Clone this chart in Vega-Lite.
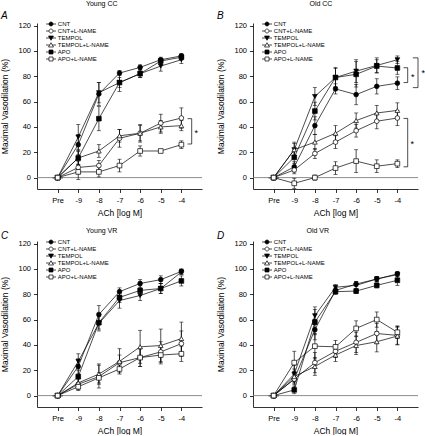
{
"$schema":"https://vega.github.io/schema/vega-lite/v6.json",
"background":"white",
"padding":{"left":0,"top":0,"right":0,"bottom":0},
"datasets":{
"d":[
{"p":"YCC","s":"CNT","x":-10,"y":0,"e":0},{"p":"YCC","s":"CNT","x":-9,"y":26,"e":8},{"p":"YCC","s":"CNT","x":-8,"y":66,"e":9},{"p":"YCC","s":"CNT","x":-7,"y":82.5,"e":2},{"p":"YCC","s":"CNT","x":-6,"y":87,"e":2},{"p":"YCC","s":"CNT","x":-5,"y":93,"e":2},{"p":"YCC","s":"CNT","x":-4,"y":96,"e":2},
{"p":"YCC","s":"CNT+L-NAME","x":-10,"y":0,"e":0},{"p":"YCC","s":"CNT+L-NAME","x":-9,"y":8,"e":5},{"p":"YCC","s":"CNT+L-NAME","x":-8,"y":9.5,"e":4},{"p":"YCC","s":"CNT+L-NAME","x":-7,"y":31,"e":7},{"p":"YCC","s":"CNT+L-NAME","x":-6,"y":35,"e":7},{"p":"YCC","s":"CNT+L-NAME","x":-5,"y":43,"e":7},{"p":"YCC","s":"CNT+L-NAME","x":-4,"y":47,"e":8},
{"p":"YCC","s":"TEMPOL","x":-10,"y":0,"e":0},{"p":"YCC","s":"TEMPOL","x":-9,"y":32,"e":10},{"p":"YCC","s":"TEMPOL","x":-8,"y":67,"e":8},{"p":"YCC","s":"TEMPOL","x":-7,"y":75,"e":7},{"p":"YCC","s":"TEMPOL","x":-6,"y":82,"e":3},{"p":"YCC","s":"TEMPOL","x":-5,"y":88,"e":4},{"p":"YCC","s":"TEMPOL","x":-4,"y":93,"e":3},
{"p":"YCC","s":"TEMPOL+L-NAME","x":-10,"y":0,"e":0},{"p":"YCC","s":"TEMPOL+L-NAME","x":-9,"y":15.5,"e":6},{"p":"YCC","s":"TEMPOL+L-NAME","x":-8,"y":21,"e":5},{"p":"YCC","s":"TEMPOL+L-NAME","x":-7,"y":33,"e":5},{"p":"YCC","s":"TEMPOL+L-NAME","x":-6,"y":35,"e":6},{"p":"YCC","s":"TEMPOL+L-NAME","x":-5,"y":40,"e":5},{"p":"YCC","s":"TEMPOL+L-NAME","x":-4,"y":41,"e":4},
{"p":"YCC","s":"APO","x":-10,"y":0,"e":0},{"p":"YCC","s":"APO","x":-9,"y":15.5,"e":5},{"p":"YCC","s":"APO","x":-8,"y":46.5,"e":9.5},{"p":"YCC","s":"APO","x":-7,"y":75,"e":4},{"p":"YCC","s":"APO","x":-6,"y":82,"e":3},{"p":"YCC","s":"APO","x":-5,"y":92,"e":2},{"p":"YCC","s":"APO","x":-4,"y":95,"e":2},
{"p":"YCC","s":"APO+L-NAME","x":-10,"y":0,"e":0},{"p":"YCC","s":"APO+L-NAME","x":-9,"y":4.5,"e":6},{"p":"YCC","s":"APO+L-NAME","x":-8,"y":4.5,"e":4},{"p":"YCC","s":"APO+L-NAME","x":-7,"y":9.5,"e":5},{"p":"YCC","s":"APO+L-NAME","x":-6,"y":21,"e":4},{"p":"YCC","s":"APO+L-NAME","x":-5,"y":21,"e":1},{"p":"YCC","s":"APO+L-NAME","x":-4,"y":26,"e":3},
{"p":"OCC","s":"CNT","x":-10,"y":0,"e":0},{"p":"OCC","s":"CNT","x":-9,"y":8.5,"e":4},{"p":"OCC","s":"CNT","x":-8,"y":41,"e":7},{"p":"OCC","s":"CNT","x":-7,"y":70,"e":4},{"p":"OCC","s":"CNT","x":-6,"y":65.5,"e":8},{"p":"OCC","s":"CNT","x":-5,"y":72,"e":6},{"p":"OCC","s":"CNT","x":-4,"y":74.5,"e":5},
{"p":"OCC","s":"CNT+L-NAME","x":-10,"y":0,"e":0},{"p":"OCC","s":"CNT+L-NAME","x":-9,"y":6,"e":3},{"p":"OCC","s":"CNT+L-NAME","x":-8,"y":19,"e":4},{"p":"OCC","s":"CNT+L-NAME","x":-7,"y":28,"e":5},{"p":"OCC","s":"CNT+L-NAME","x":-6,"y":37,"e":5},{"p":"OCC","s":"CNT+L-NAME","x":-5,"y":44.5,"e":6},{"p":"OCC","s":"CNT+L-NAME","x":-4,"y":47,"e":6},
{"p":"OCC","s":"TEMPOL","x":-10,"y":0,"e":0},{"p":"OCC","s":"TEMPOL","x":-9,"y":22,"e":5},{"p":"OCC","s":"TEMPOL","x":-8,"y":64,"e":7},{"p":"OCC","s":"TEMPOL","x":-7,"y":79,"e":8},{"p":"OCC","s":"TEMPOL","x":-6,"y":84,"e":9},{"p":"OCC","s":"TEMPOL","x":-5,"y":88.5,"e":6},{"p":"OCC","s":"TEMPOL","x":-4,"y":93,"e":3},
{"p":"OCC","s":"TEMPOL+L-NAME","x":-10,"y":0,"e":0},{"p":"OCC","s":"TEMPOL+L-NAME","x":-9,"y":22,"e":6},{"p":"OCC","s":"TEMPOL+L-NAME","x":-8,"y":28,"e":6},{"p":"OCC","s":"TEMPOL+L-NAME","x":-7,"y":35,"e":6},{"p":"OCC","s":"TEMPOL+L-NAME","x":-6,"y":45,"e":6},{"p":"OCC","s":"TEMPOL+L-NAME","x":-5,"y":51,"e":6},{"p":"OCC","s":"TEMPOL+L-NAME","x":-4,"y":53,"e":6},
{"p":"OCC","s":"APO","x":-10,"y":0,"e":0},{"p":"OCC","s":"APO","x":-9,"y":16,"e":5},{"p":"OCC","s":"APO","x":-8,"y":52.5,"e":7},{"p":"OCC","s":"APO","x":-7,"y":79,"e":7},{"p":"OCC","s":"APO","x":-6,"y":81.5,"e":10},{"p":"OCC","s":"APO","x":-5,"y":88,"e":5},{"p":"OCC","s":"APO","x":-4,"y":86.5,"e":5},
{"p":"OCC","s":"APO+L-NAME","x":-10,"y":0,"e":0},{"p":"OCC","s":"APO+L-NAME","x":-9,"y":-4.5,"e":4},{"p":"OCC","s":"APO+L-NAME","x":-8,"y":0,"e":2},{"p":"OCC","s":"APO+L-NAME","x":-7,"y":7.5,"e":5},{"p":"OCC","s":"APO+L-NAME","x":-6,"y":13,"e":9},{"p":"OCC","s":"APO+L-NAME","x":-5,"y":9,"e":5},{"p":"OCC","s":"APO+L-NAME","x":-4,"y":11,"e":3},
{"p":"YVR","s":"CNT","x":-10,"y":0,"e":0},{"p":"YVR","s":"CNT","x":-9,"y":23,"e":6},{"p":"YVR","s":"CNT","x":-8,"y":64,"e":7},{"p":"YVR","s":"CNT","x":-7,"y":82,"e":3},{"p":"YVR","s":"CNT","x":-6,"y":88.5,"e":3},{"p":"YVR","s":"CNT","x":-5,"y":91.5,"e":3},{"p":"YVR","s":"CNT","x":-4,"y":98,"e":2},
{"p":"YVR","s":"CNT+L-NAME","x":-10,"y":0,"e":0},{"p":"YVR","s":"CNT+L-NAME","x":-9,"y":9,"e":4},{"p":"YVR","s":"CNT+L-NAME","x":-8,"y":15,"e":9},{"p":"YVR","s":"CNT+L-NAME","x":-7,"y":26,"e":6},{"p":"YVR","s":"CNT+L-NAME","x":-6,"y":30,"e":7},{"p":"YVR","s":"CNT+L-NAME","x":-5,"y":34.5,"e":8},{"p":"YVR","s":"CNT+L-NAME","x":-4,"y":41,"e":10},
{"p":"YVR","s":"TEMPOL","x":-10,"y":0,"e":0},{"p":"YVR","s":"TEMPOL","x":-9,"y":27,"e":6},{"p":"YVR","s":"TEMPOL","x":-8,"y":57,"e":6},{"p":"YVR","s":"TEMPOL","x":-7,"y":75,"e":6},{"p":"YVR","s":"TEMPOL","x":-6,"y":79,"e":4},{"p":"YVR","s":"TEMPOL","x":-5,"y":84.5,"e":4},{"p":"YVR","s":"TEMPOL","x":-4,"y":97.5,"e":2},
{"p":"YVR","s":"TEMPOL+L-NAME","x":-10,"y":0,"e":0},{"p":"YVR","s":"TEMPOL+L-NAME","x":-9,"y":10,"e":4},{"p":"YVR","s":"TEMPOL+L-NAME","x":-8,"y":17,"e":8},{"p":"YVR","s":"TEMPOL+L-NAME","x":-7,"y":27,"e":10},{"p":"YVR","s":"TEMPOL+L-NAME","x":-6,"y":38.5,"e":13},{"p":"YVR","s":"TEMPOL+L-NAME","x":-5,"y":39.5,"e":13},{"p":"YVR","s":"TEMPOL+L-NAME","x":-4,"y":45,"e":13},
{"p":"YVR","s":"APO","x":-10,"y":0,"e":0},{"p":"YVR","s":"APO","x":-9,"y":15,"e":5},{"p":"YVR","s":"APO","x":-8,"y":57.5,"e":5},{"p":"YVR","s":"APO","x":-7,"y":77.5,"e":4},{"p":"YVR","s":"APO","x":-6,"y":83,"e":4},{"p":"YVR","s":"APO","x":-5,"y":84.5,"e":4},{"p":"YVR","s":"APO","x":-4,"y":90.5,"e":4},
{"p":"YVR","s":"APO+L-NAME","x":-10,"y":0,"e":0},{"p":"YVR","s":"APO+L-NAME","x":-9,"y":7,"e":3},{"p":"YVR","s":"APO+L-NAME","x":-8,"y":14,"e":4},{"p":"YVR","s":"APO+L-NAME","x":-7,"y":21,"e":3},{"p":"YVR","s":"APO+L-NAME","x":-6,"y":30,"e":7},{"p":"YVR","s":"APO+L-NAME","x":-5,"y":32,"e":7},{"p":"YVR","s":"APO+L-NAME","x":-4,"y":33,"e":6},
{"p":"OVR","s":"CNT","x":-10,"y":0,"e":0},{"p":"OVR","s":"CNT","x":-9,"y":13,"e":8},{"p":"OVR","s":"CNT","x":-8,"y":52,"e":8},{"p":"OVR","s":"CNT","x":-7,"y":83,"e":2},{"p":"OVR","s":"CNT","x":-6,"y":88,"e":2},{"p":"OVR","s":"CNT","x":-5,"y":92,"e":2},{"p":"OVR","s":"CNT","x":-4,"y":96,"e":2},
{"p":"OVR","s":"CNT+L-NAME","x":-10,"y":0,"e":0},{"p":"OVR","s":"CNT+L-NAME","x":-9,"y":13,"e":4},{"p":"OVR","s":"CNT+L-NAME","x":-8,"y":26,"e":8},{"p":"OVR","s":"CNT+L-NAME","x":-7,"y":35,"e":5},{"p":"OVR","s":"CNT+L-NAME","x":-6,"y":42,"e":8},{"p":"OVR","s":"CNT+L-NAME","x":-5,"y":49,"e":8},{"p":"OVR","s":"CNT+L-NAME","x":-4,"y":47.5,"e":7},
{"p":"OVR","s":"TEMPOL","x":-10,"y":0,"e":0},{"p":"OVR","s":"TEMPOL","x":-9,"y":17,"e":7},{"p":"OVR","s":"TEMPOL","x":-8,"y":63,"e":7},{"p":"OVR","s":"TEMPOL","x":-7,"y":85.5,"e":2},{"p":"OVR","s":"TEMPOL","x":-6,"y":87,"e":3},{"p":"OVR","s":"TEMPOL","x":-5,"y":92,"e":2},{"p":"OVR","s":"TEMPOL","x":-4,"y":95.5,"e":2},
{"p":"OVR","s":"TEMPOL+L-NAME","x":-10,"y":0,"e":0},{"p":"OVR","s":"TEMPOL+L-NAME","x":-9,"y":15,"e":4},{"p":"OVR","s":"TEMPOL+L-NAME","x":-8,"y":23,"e":7},{"p":"OVR","s":"TEMPOL+L-NAME","x":-7,"y":32,"e":5},{"p":"OVR","s":"TEMPOL+L-NAME","x":-6,"y":39.5,"e":7},{"p":"OVR","s":"TEMPOL+L-NAME","x":-5,"y":42.5,"e":8},{"p":"OVR","s":"TEMPOL+L-NAME","x":-4,"y":47,"e":7},
{"p":"OVR","s":"APO","x":-10,"y":0,"e":0},{"p":"OVR","s":"APO","x":-9,"y":4.5,"e":3},{"p":"OVR","s":"APO","x":-8,"y":58,"e":10},{"p":"OVR","s":"APO","x":-7,"y":82,"e":2},{"p":"OVR","s":"APO","x":-6,"y":82.5,"e":2},{"p":"OVR","s":"APO","x":-5,"y":87,"e":2},{"p":"OVR","s":"APO","x":-4,"y":91,"e":4},
{"p":"OVR","s":"APO+L-NAME","x":-10,"y":0,"e":0},{"p":"OVR","s":"APO+L-NAME","x":-9,"y":26,"e":9},{"p":"OVR","s":"APO+L-NAME","x":-8,"y":39,"e":10},{"p":"OVR","s":"APO+L-NAME","x":-7,"y":38.5,"e":5},{"p":"OVR","s":"APO+L-NAME","x":-6,"y":53,"e":6},{"p":"OVR","s":"APO+L-NAME","x":-5,"y":60,"e":6},{"p":"OVR","s":"APO+L-NAME","x":-4,"y":50,"e":5}
],
"br":[
{"p":"YCC","x":-3.5,"x2":-3.5,"y":26.5,"y2":46.5},{"p":"YCC","x":-3.7,"x2":-3.5,"y":46.5,"y2":46.5},{"p":"YCC","x":-3.7,"x2":-3.5,"y":26.5,"y2":26.5},
{"p":"OCC","x":-3.0,"x2":-3.0,"y":71,"y2":94.5},{"p":"OCC","x":-3.25,"x2":-3.0,"y":94.5,"y2":94.5},{"p":"OCC","x":-3.25,"x2":-3.0,"y":71,"y2":71},
{"p":"OCC","x":-3.5,"x2":-3.5,"y":75,"y2":86.7},{"p":"OCC","x":-3.7,"x2":-3.5,"y":86.7,"y2":86.7},{"p":"OCC","x":-3.7,"x2":-3.5,"y":75,"y2":75},
{"p":"OCC","x":-3.5,"x2":-3.5,"y":8.5,"y2":46.7},{"p":"OCC","x":-3.7,"x2":-3.5,"y":46.7,"y2":46.7},{"p":"OCC","x":-3.7,"x2":-3.5,"y":8.5,"y2":8.5}
],
"ast":[
{"p":"YCC","x":-3.28,"y":36.5},
{"p":"OCC","x":-2.75,"y":84},
{"p":"OCC","x":-3.25,"y":81},
{"p":"OCC","x":-3.28,"y":28}
]
},
"vconcat":[
{"hconcat":[
{"title":{"text":"Young CC"},"vconcat":[{"title":{"text":"A","anchor":"start","frame":"bounds","fontStyle":"italic","fontSize":10,"offset":0},"width":165,"height":166,"layer":[
{"data":{"name":"d"},"transform":[{"filter":"datum.p == 'YCC' && datum.x == -10"}],"mark":{"type":"point","filled":true,"size":25,"strokeWidth":0.7,"opacity":1},"encoding":{"x":{"field":"x","type":"quantitative","scale":{"domain":[-11,-3],"nice":false,"zero":false},"axis":{"values":[-10,-9,-8,-7,-6,-5,-4],"labelExpr":"datum.value == -10 ? 'Pre' : '-' + abs(datum.value)","title":"ACh [log M]"}},"y":{"field":"y","type":"quantitative","scale":{"domain":[-9,122],"nice":false,"zero":false},"axis":{"values":[0,20,40,60,80,100,120],"title":"Maximal Vasodilation (%)"}},
"shape":{"field":"s","type":"nominal","scale":{"domain":["CNT","CNT+L-NAME","TEMPOL","TEMPOL+L-NAME","APO","APO+L-NAME"],"range":["M-2,0H-0.8M0.8,0H2M0.8,0A0.8,0.8,0,1,1,-0.8,0A0.8,0.8,0,1,1,0.8,0Z","M-2,0H-0.8M0.8,0H2M0.8,0A0.8,0.8,0,1,1,-0.8,0A0.8,0.8,0,1,1,0.8,0Z","M-2,0H2M-1,-0.8H1L0,0.9Z","M-2,0H-0.53M0.53,0H2M0,-0.9L1,0.8H-1Z","M-2,0H-0.8M0.8,0H2M-0.8,-0.8H0.8V0.8H-0.8Z","M-2,0H-0.8M0.8,0H2M-0.8,-0.8H0.8V0.8H-0.8Z"]},"legend":{"title":null,"orient":"none","legendX":11,"legendY":-2,"padding":0,"rowPadding":-1.3,"labelFontSize":6,"labelOffset":3.8,"symbolSize":25,"symbolStrokeWidth":0.7}},
"fill":{"field":"s","type":"nominal","scale":{"domain":["CNT","CNT+L-NAME","TEMPOL","TEMPOL+L-NAME","APO","APO+L-NAME"],"range":["black","white","black","white","black","white"]},"legend":{"title":null,"orient":"none","legendX":11,"legendY":-2,"padding":0,"rowPadding":-1.3,"labelFontSize":6,"labelOffset":3.8,"symbolSize":25,"symbolStrokeWidth":0.7}},
"stroke":{"field":"s","type":"nominal","scale":{"domain":["CNT","CNT+L-NAME","TEMPOL","TEMPOL+L-NAME","APO","APO+L-NAME"],"range":["black","black","black","black","black","black"]},"legend":{"title":null,"orient":"none","legendX":11,"legendY":-2,"padding":0,"rowPadding":-1.3,"labelFontSize":6,"labelOffset":3.8,"symbolSize":25,"symbolStrokeWidth":0.7}}}},
{"data":{"values":[{}]},"mark":{"type":"rule","color":"#808080","strokeWidth":0.9},"encoding":{"y":{"datum":0,"type":"quantitative","scale":{"domain":[-9,122],"nice":false,"zero":false},"axis":{"values":[0,20,40,60,80,100,120],"title":"Maximal Vasodilation (%)"}}}},
{"data":{"name":"d"},"transform":[{"filter":"datum.p == 'YCC' && datum.e > 0"}],"mark":{"type":"errorbar","color":"black","ticks":{"size":4,"thickness":0.8},"rule":{"strokeWidth":0.7}},"encoding":{"x":{"field":"x","type":"quantitative","scale":{"domain":[-11,-3],"nice":false,"zero":false},"axis":{"values":[-10,-9,-8,-7,-6,-5,-4],"labelExpr":"datum.value == -10 ? 'Pre' : '-' + abs(datum.value)","title":"ACh [log M]"}},"y":{"field":"y","type":"quantitative","scale":{"domain":[-9,122],"nice":false,"zero":false},"axis":{"values":[0,20,40,60,80,100,120],"title":"Maximal Vasodilation (%)"}},"yError":{"field":"e"}}},
{"data":{"name":"d"},"transform":[{"filter":"datum.p == 'YCC'"}],"mark":{"type":"line","color":"black","strokeWidth":0.7},"encoding":{"x":{"field":"x","type":"quantitative","scale":{"domain":[-11,-3],"nice":false,"zero":false},"axis":{"values":[-10,-9,-8,-7,-6,-5,-4],"labelExpr":"datum.value == -10 ? 'Pre' : '-' + abs(datum.value)","title":"ACh [log M]"}},"y":{"field":"y","type":"quantitative","scale":{"domain":[-9,122],"nice":false,"zero":false},"axis":{"values":[0,20,40,60,80,100,120],"title":"Maximal Vasodilation (%)"}},"detail":{"field":"s"},"order":{"field":"x"}}},
{"data":{"name":"d"},"transform":[{"filter":"datum.p == 'YCC'"}],"mark":{"type":"point","filled":true,"size":22,"stroke":"black","strokeWidth":0.7,"opacity":1},"encoding":{"x":{"field":"x","type":"quantitative","scale":{"domain":[-11,-3],"nice":false,"zero":false},"axis":{"values":[-10,-9,-8,-7,-6,-5,-4],"labelExpr":"datum.value == -10 ? 'Pre' : '-' + abs(datum.value)","title":"ACh [log M]"}},"y":{"field":"y","type":"quantitative","scale":{"domain":[-9,122],"nice":false,"zero":false},"axis":{"values":[0,20,40,60,80,100,120],"title":"Maximal Vasodilation (%)"}},
"shape":{"field":"s","type":"nominal","scale":{"domain":["CNT","CNT+L-NAME","TEMPOL","TEMPOL+L-NAME","APO","APO+L-NAME"],"range":["circle","circle","triangle-down","triangle-up","square","square"]},"legend":null},
"fill":{"field":"s","type":"nominal","scale":{"domain":["CNT","CNT+L-NAME","TEMPOL","TEMPOL+L-NAME","APO","APO+L-NAME"],"range":["black","white","black","white","black","white"]},"legend":null}}},
{"data":{"name":"br"},"transform":[{"filter":"datum.p == 'YCC'"}],"mark":{"type":"rule","color":"black","strokeWidth":0.7},"encoding":{"x":{"field":"x","type":"quantitative","scale":{"domain":[-11,-3],"nice":false,"zero":false},"axis":{"values":[-10,-9,-8,-7,-6,-5,-4],"labelExpr":"datum.value == -10 ? 'Pre' : '-' + abs(datum.value)","title":"ACh [log M]"}},"x2":{"field":"x2"},"y":{"field":"y","type":"quantitative","scale":{"domain":[-9,122],"nice":false,"zero":false},"axis":{"values":[0,20,40,60,80,100,120],"title":"Maximal Vasodilation (%)"}},"y2":{"field":"y2"}}},
{"data":{"name":"ast"},"transform":[{"filter":"datum.p == 'YCC'"}],"mark":{"type":"text","text":"*","fontSize":9,"baseline":"middle","dy":2},"encoding":{"x":{"field":"x","type":"quantitative","scale":{"domain":[-11,-3],"nice":false,"zero":false},"axis":{"values":[-10,-9,-8,-7,-6,-5,-4],"labelExpr":"datum.value == -10 ? 'Pre' : '-' + abs(datum.value)","title":"ACh [log M]"}},"y":{"field":"y","type":"quantitative","scale":{"domain":[-9,122],"nice":false,"zero":false},"axis":{"values":[0,20,40,60,80,100,120],"title":"Maximal Vasodilation (%)"}}}}
],"resolve":{"scale":{"shape":"independent","fill":"independent","stroke":"independent"}}}],"resolve":{"scale":{"shape":"independent","fill":"independent","stroke":"independent"},"legend":{"shape":"independent","fill":"independent","stroke":"independent"}}},
{"title":{"text":"Old CC"},"vconcat":[{"title":{"text":"B","anchor":"start","frame":"bounds","fontStyle":"italic","fontSize":10,"offset":0},"width":165,"height":166,"layer":[
{"data":{"name":"d"},"transform":[{"filter":"datum.p == 'OCC' && datum.x == -10"}],"mark":{"type":"point","filled":true,"size":25,"strokeWidth":0.7,"opacity":1},"encoding":{"x":{"field":"x","type":"quantitative","scale":{"domain":[-11,-3],"nice":false,"zero":false},"axis":{"values":[-10,-9,-8,-7,-6,-5,-4],"labelExpr":"datum.value == -10 ? 'Pre' : '-' + abs(datum.value)","title":"ACh [log M]"}},"y":{"field":"y","type":"quantitative","scale":{"domain":[-9,122],"nice":false,"zero":false},"axis":{"values":[0,20,40,60,80,100,120],"title":"Maximal Vasodilation (%)"}},
"shape":{"field":"s","type":"nominal","scale":{"domain":["CNT","CNT+L-NAME","TEMPOL","TEMPOL+L-NAME","APO","APO+L-NAME"],"range":["M-2,0H-0.8M0.8,0H2M0.8,0A0.8,0.8,0,1,1,-0.8,0A0.8,0.8,0,1,1,0.8,0Z","M-2,0H-0.8M0.8,0H2M0.8,0A0.8,0.8,0,1,1,-0.8,0A0.8,0.8,0,1,1,0.8,0Z","M-2,0H2M-1,-0.8H1L0,0.9Z","M-2,0H-0.53M0.53,0H2M0,-0.9L1,0.8H-1Z","M-2,0H-0.8M0.8,0H2M-0.8,-0.8H0.8V0.8H-0.8Z","M-2,0H-0.8M0.8,0H2M-0.8,-0.8H0.8V0.8H-0.8Z"]},"legend":{"title":null,"orient":"none","legendX":11,"legendY":-2,"padding":0,"rowPadding":-1.3,"labelFontSize":6,"labelOffset":3.8,"symbolSize":25,"symbolStrokeWidth":0.7}},
"fill":{"field":"s","type":"nominal","scale":{"domain":["CNT","CNT+L-NAME","TEMPOL","TEMPOL+L-NAME","APO","APO+L-NAME"],"range":["black","white","black","white","black","white"]},"legend":{"title":null,"orient":"none","legendX":11,"legendY":-2,"padding":0,"rowPadding":-1.3,"labelFontSize":6,"labelOffset":3.8,"symbolSize":25,"symbolStrokeWidth":0.7}},
"stroke":{"field":"s","type":"nominal","scale":{"domain":["CNT","CNT+L-NAME","TEMPOL","TEMPOL+L-NAME","APO","APO+L-NAME"],"range":["black","black","black","black","black","black"]},"legend":{"title":null,"orient":"none","legendX":11,"legendY":-2,"padding":0,"rowPadding":-1.3,"labelFontSize":6,"labelOffset":3.8,"symbolSize":25,"symbolStrokeWidth":0.7}}}},
{"data":{"values":[{}]},"mark":{"type":"rule","color":"#808080","strokeWidth":0.9},"encoding":{"y":{"datum":0,"type":"quantitative","scale":{"domain":[-9,122],"nice":false,"zero":false},"axis":{"values":[0,20,40,60,80,100,120],"title":"Maximal Vasodilation (%)"}}}},
{"data":{"name":"d"},"transform":[{"filter":"datum.p == 'OCC' && datum.e > 0"}],"mark":{"type":"errorbar","color":"black","ticks":{"size":4,"thickness":0.8},"rule":{"strokeWidth":0.7}},"encoding":{"x":{"field":"x","type":"quantitative","scale":{"domain":[-11,-3],"nice":false,"zero":false},"axis":{"values":[-10,-9,-8,-7,-6,-5,-4],"labelExpr":"datum.value == -10 ? 'Pre' : '-' + abs(datum.value)","title":"ACh [log M]"}},"y":{"field":"y","type":"quantitative","scale":{"domain":[-9,122],"nice":false,"zero":false},"axis":{"values":[0,20,40,60,80,100,120],"title":"Maximal Vasodilation (%)"}},"yError":{"field":"e"}}},
{"data":{"name":"d"},"transform":[{"filter":"datum.p == 'OCC'"}],"mark":{"type":"line","color":"black","strokeWidth":0.7},"encoding":{"x":{"field":"x","type":"quantitative","scale":{"domain":[-11,-3],"nice":false,"zero":false},"axis":{"values":[-10,-9,-8,-7,-6,-5,-4],"labelExpr":"datum.value == -10 ? 'Pre' : '-' + abs(datum.value)","title":"ACh [log M]"}},"y":{"field":"y","type":"quantitative","scale":{"domain":[-9,122],"nice":false,"zero":false},"axis":{"values":[0,20,40,60,80,100,120],"title":"Maximal Vasodilation (%)"}},"detail":{"field":"s"},"order":{"field":"x"}}},
{"data":{"name":"d"},"transform":[{"filter":"datum.p == 'OCC'"}],"mark":{"type":"point","filled":true,"size":22,"stroke":"black","strokeWidth":0.7,"opacity":1},"encoding":{"x":{"field":"x","type":"quantitative","scale":{"domain":[-11,-3],"nice":false,"zero":false},"axis":{"values":[-10,-9,-8,-7,-6,-5,-4],"labelExpr":"datum.value == -10 ? 'Pre' : '-' + abs(datum.value)","title":"ACh [log M]"}},"y":{"field":"y","type":"quantitative","scale":{"domain":[-9,122],"nice":false,"zero":false},"axis":{"values":[0,20,40,60,80,100,120],"title":"Maximal Vasodilation (%)"}},
"shape":{"field":"s","type":"nominal","scale":{"domain":["CNT","CNT+L-NAME","TEMPOL","TEMPOL+L-NAME","APO","APO+L-NAME"],"range":["circle","circle","triangle-down","triangle-up","square","square"]},"legend":null},
"fill":{"field":"s","type":"nominal","scale":{"domain":["CNT","CNT+L-NAME","TEMPOL","TEMPOL+L-NAME","APO","APO+L-NAME"],"range":["black","white","black","white","black","white"]},"legend":null}}},
{"data":{"name":"br"},"transform":[{"filter":"datum.p == 'OCC'"}],"mark":{"type":"rule","color":"black","strokeWidth":0.7},"encoding":{"x":{"field":"x","type":"quantitative","scale":{"domain":[-11,-3],"nice":false,"zero":false},"axis":{"values":[-10,-9,-8,-7,-6,-5,-4],"labelExpr":"datum.value == -10 ? 'Pre' : '-' + abs(datum.value)","title":"ACh [log M]"}},"x2":{"field":"x2"},"y":{"field":"y","type":"quantitative","scale":{"domain":[-9,122],"nice":false,"zero":false},"axis":{"values":[0,20,40,60,80,100,120],"title":"Maximal Vasodilation (%)"}},"y2":{"field":"y2"}}},
{"data":{"name":"ast"},"transform":[{"filter":"datum.p == 'OCC'"}],"mark":{"type":"text","text":"*","fontSize":9,"baseline":"middle","dy":2},"encoding":{"x":{"field":"x","type":"quantitative","scale":{"domain":[-11,-3],"nice":false,"zero":false},"axis":{"values":[-10,-9,-8,-7,-6,-5,-4],"labelExpr":"datum.value == -10 ? 'Pre' : '-' + abs(datum.value)","title":"ACh [log M]"}},"y":{"field":"y","type":"quantitative","scale":{"domain":[-9,122],"nice":false,"zero":false},"axis":{"values":[0,20,40,60,80,100,120],"title":"Maximal Vasodilation (%)"}}}}
],"resolve":{"scale":{"shape":"independent","fill":"independent","stroke":"independent"}}}],"resolve":{"scale":{"shape":"independent","fill":"independent","stroke":"independent"},"legend":{"shape":"independent","fill":"independent","stroke":"independent"}}}
],"spacing":13,"resolve":{"scale":{"shape":"independent","fill":"independent","stroke":"independent"},"legend":{"shape":"independent","fill":"independent","stroke":"independent"}}},
{"hconcat":[
{"title":{"text":"Young VR","offset":-3.5},"vconcat":[{"title":{"text":"C","anchor":"start","frame":"bounds","fontStyle":"italic","fontSize":10,"offset":-1.5},"width":165,"height":166,"layer":[
{"data":{"name":"d"},"transform":[{"filter":"datum.p == 'YVR' && datum.x == -10"}],"mark":{"type":"point","filled":true,"size":25,"strokeWidth":0.7,"opacity":1},"encoding":{"x":{"field":"x","type":"quantitative","scale":{"domain":[-11,-3],"nice":false,"zero":false},"axis":{"values":[-10,-9,-8,-7,-6,-5,-4],"labelExpr":"datum.value == -10 ? 'Pre' : '-' + abs(datum.value)","title":"ACh [log M]"}},"y":{"field":"y","type":"quantitative","scale":{"domain":[-9,122],"nice":false,"zero":false},"axis":{"values":[0,20,40,60,80,100,120],"title":"Maximal Vasodilation (%)"}},
"shape":{"field":"s","type":"nominal","scale":{"domain":["CNT","CNT+L-NAME","TEMPOL","TEMPOL+L-NAME","APO","APO+L-NAME"],"range":["M-2,0H-0.8M0.8,0H2M0.8,0A0.8,0.8,0,1,1,-0.8,0A0.8,0.8,0,1,1,0.8,0Z","M-2,0H-0.8M0.8,0H2M0.8,0A0.8,0.8,0,1,1,-0.8,0A0.8,0.8,0,1,1,0.8,0Z","M-2,0H2M-1,-0.8H1L0,0.9Z","M-2,0H-0.53M0.53,0H2M0,-0.9L1,0.8H-1Z","M-2,0H-0.8M0.8,0H2M-0.8,-0.8H0.8V0.8H-0.8Z","M-2,0H-0.8M0.8,0H2M-0.8,-0.8H0.8V0.8H-0.8Z"]},"legend":{"title":null,"orient":"none","legendX":11,"legendY":-2,"padding":0,"rowPadding":-1.3,"labelFontSize":6,"labelOffset":3.8,"symbolSize":25,"symbolStrokeWidth":0.7}},
"fill":{"field":"s","type":"nominal","scale":{"domain":["CNT","CNT+L-NAME","TEMPOL","TEMPOL+L-NAME","APO","APO+L-NAME"],"range":["black","white","black","white","black","white"]},"legend":{"title":null,"orient":"none","legendX":11,"legendY":-2,"padding":0,"rowPadding":-1.3,"labelFontSize":6,"labelOffset":3.8,"symbolSize":25,"symbolStrokeWidth":0.7}},
"stroke":{"field":"s","type":"nominal","scale":{"domain":["CNT","CNT+L-NAME","TEMPOL","TEMPOL+L-NAME","APO","APO+L-NAME"],"range":["black","black","black","black","black","black"]},"legend":{"title":null,"orient":"none","legendX":11,"legendY":-2,"padding":0,"rowPadding":-1.3,"labelFontSize":6,"labelOffset":3.8,"symbolSize":25,"symbolStrokeWidth":0.7}}}},
{"data":{"values":[{}]},"mark":{"type":"rule","color":"#808080","strokeWidth":0.9},"encoding":{"y":{"datum":0,"type":"quantitative","scale":{"domain":[-9,122],"nice":false,"zero":false},"axis":{"values":[0,20,40,60,80,100,120],"title":"Maximal Vasodilation (%)"}}}},
{"data":{"name":"d"},"transform":[{"filter":"datum.p == 'YVR' && datum.e > 0"}],"mark":{"type":"errorbar","color":"black","ticks":{"size":4,"thickness":0.8},"rule":{"strokeWidth":0.7}},"encoding":{"x":{"field":"x","type":"quantitative","scale":{"domain":[-11,-3],"nice":false,"zero":false},"axis":{"values":[-10,-9,-8,-7,-6,-5,-4],"labelExpr":"datum.value == -10 ? 'Pre' : '-' + abs(datum.value)","title":"ACh [log M]"}},"y":{"field":"y","type":"quantitative","scale":{"domain":[-9,122],"nice":false,"zero":false},"axis":{"values":[0,20,40,60,80,100,120],"title":"Maximal Vasodilation (%)"}},"yError":{"field":"e"}}},
{"data":{"name":"d"},"transform":[{"filter":"datum.p == 'YVR'"}],"mark":{"type":"line","color":"black","strokeWidth":0.7},"encoding":{"x":{"field":"x","type":"quantitative","scale":{"domain":[-11,-3],"nice":false,"zero":false},"axis":{"values":[-10,-9,-8,-7,-6,-5,-4],"labelExpr":"datum.value == -10 ? 'Pre' : '-' + abs(datum.value)","title":"ACh [log M]"}},"y":{"field":"y","type":"quantitative","scale":{"domain":[-9,122],"nice":false,"zero":false},"axis":{"values":[0,20,40,60,80,100,120],"title":"Maximal Vasodilation (%)"}},"detail":{"field":"s"},"order":{"field":"x"}}},
{"data":{"name":"d"},"transform":[{"filter":"datum.p == 'YVR'"}],"mark":{"type":"point","filled":true,"size":22,"stroke":"black","strokeWidth":0.7,"opacity":1},"encoding":{"x":{"field":"x","type":"quantitative","scale":{"domain":[-11,-3],"nice":false,"zero":false},"axis":{"values":[-10,-9,-8,-7,-6,-5,-4],"labelExpr":"datum.value == -10 ? 'Pre' : '-' + abs(datum.value)","title":"ACh [log M]"}},"y":{"field":"y","type":"quantitative","scale":{"domain":[-9,122],"nice":false,"zero":false},"axis":{"values":[0,20,40,60,80,100,120],"title":"Maximal Vasodilation (%)"}},
"shape":{"field":"s","type":"nominal","scale":{"domain":["CNT","CNT+L-NAME","TEMPOL","TEMPOL+L-NAME","APO","APO+L-NAME"],"range":["circle","circle","triangle-down","triangle-up","square","square"]},"legend":null},
"fill":{"field":"s","type":"nominal","scale":{"domain":["CNT","CNT+L-NAME","TEMPOL","TEMPOL+L-NAME","APO","APO+L-NAME"],"range":["black","white","black","white","black","white"]},"legend":null}}}
],"resolve":{"scale":{"shape":"independent","fill":"independent","stroke":"independent"}}}],"resolve":{"scale":{"shape":"independent","fill":"independent","stroke":"independent"},"legend":{"shape":"independent","fill":"independent","stroke":"independent"}}},
{"title":{"text":"Old VR","offset":-3.5},"vconcat":[{"title":{"text":"D","anchor":"start","frame":"bounds","fontStyle":"italic","fontSize":10,"offset":-1.5},"width":165,"height":166,"layer":[
{"data":{"name":"d"},"transform":[{"filter":"datum.p == 'OVR' && datum.x == -10"}],"mark":{"type":"point","filled":true,"size":25,"strokeWidth":0.7,"opacity":1},"encoding":{"x":{"field":"x","type":"quantitative","scale":{"domain":[-11,-3],"nice":false,"zero":false},"axis":{"values":[-10,-9,-8,-7,-6,-5,-4],"labelExpr":"datum.value == -10 ? 'Pre' : '-' + abs(datum.value)","title":"ACh [log M]"}},"y":{"field":"y","type":"quantitative","scale":{"domain":[-9,122],"nice":false,"zero":false},"axis":{"values":[0,20,40,60,80,100,120],"title":"Maximal Vasodilation (%)"}},
"shape":{"field":"s","type":"nominal","scale":{"domain":["CNT","CNT+L-NAME","TEMPOL","TEMPOL+L-NAME","APO","APO+L-NAME"],"range":["M-2,0H-0.8M0.8,0H2M0.8,0A0.8,0.8,0,1,1,-0.8,0A0.8,0.8,0,1,1,0.8,0Z","M-2,0H-0.8M0.8,0H2M0.8,0A0.8,0.8,0,1,1,-0.8,0A0.8,0.8,0,1,1,0.8,0Z","M-2,0H2M-1,-0.8H1L0,0.9Z","M-2,0H-0.53M0.53,0H2M0,-0.9L1,0.8H-1Z","M-2,0H-0.8M0.8,0H2M-0.8,-0.8H0.8V0.8H-0.8Z","M-2,0H-0.8M0.8,0H2M-0.8,-0.8H0.8V0.8H-0.8Z"]},"legend":{"title":null,"orient":"none","legendX":11,"legendY":-2,"padding":0,"rowPadding":-1.3,"labelFontSize":6,"labelOffset":3.8,"symbolSize":25,"symbolStrokeWidth":0.7}},
"fill":{"field":"s","type":"nominal","scale":{"domain":["CNT","CNT+L-NAME","TEMPOL","TEMPOL+L-NAME","APO","APO+L-NAME"],"range":["black","white","black","white","black","white"]},"legend":{"title":null,"orient":"none","legendX":11,"legendY":-2,"padding":0,"rowPadding":-1.3,"labelFontSize":6,"labelOffset":3.8,"symbolSize":25,"symbolStrokeWidth":0.7}},
"stroke":{"field":"s","type":"nominal","scale":{"domain":["CNT","CNT+L-NAME","TEMPOL","TEMPOL+L-NAME","APO","APO+L-NAME"],"range":["black","black","black","black","black","black"]},"legend":{"title":null,"orient":"none","legendX":11,"legendY":-2,"padding":0,"rowPadding":-1.3,"labelFontSize":6,"labelOffset":3.8,"symbolSize":25,"symbolStrokeWidth":0.7}}}},
{"data":{"values":[{}]},"mark":{"type":"rule","color":"#808080","strokeWidth":0.9},"encoding":{"y":{"datum":0,"type":"quantitative","scale":{"domain":[-9,122],"nice":false,"zero":false},"axis":{"values":[0,20,40,60,80,100,120],"title":"Maximal Vasodilation (%)"}}}},
{"data":{"name":"d"},"transform":[{"filter":"datum.p == 'OVR' && datum.e > 0"}],"mark":{"type":"errorbar","color":"black","ticks":{"size":4,"thickness":0.8},"rule":{"strokeWidth":0.7}},"encoding":{"x":{"field":"x","type":"quantitative","scale":{"domain":[-11,-3],"nice":false,"zero":false},"axis":{"values":[-10,-9,-8,-7,-6,-5,-4],"labelExpr":"datum.value == -10 ? 'Pre' : '-' + abs(datum.value)","title":"ACh [log M]"}},"y":{"field":"y","type":"quantitative","scale":{"domain":[-9,122],"nice":false,"zero":false},"axis":{"values":[0,20,40,60,80,100,120],"title":"Maximal Vasodilation (%)"}},"yError":{"field":"e"}}},
{"data":{"name":"d"},"transform":[{"filter":"datum.p == 'OVR'"}],"mark":{"type":"line","color":"black","strokeWidth":0.7},"encoding":{"x":{"field":"x","type":"quantitative","scale":{"domain":[-11,-3],"nice":false,"zero":false},"axis":{"values":[-10,-9,-8,-7,-6,-5,-4],"labelExpr":"datum.value == -10 ? 'Pre' : '-' + abs(datum.value)","title":"ACh [log M]"}},"y":{"field":"y","type":"quantitative","scale":{"domain":[-9,122],"nice":false,"zero":false},"axis":{"values":[0,20,40,60,80,100,120],"title":"Maximal Vasodilation (%)"}},"detail":{"field":"s"},"order":{"field":"x"}}},
{"data":{"name":"d"},"transform":[{"filter":"datum.p == 'OVR'"}],"mark":{"type":"point","filled":true,"size":22,"stroke":"black","strokeWidth":0.7,"opacity":1},"encoding":{"x":{"field":"x","type":"quantitative","scale":{"domain":[-11,-3],"nice":false,"zero":false},"axis":{"values":[-10,-9,-8,-7,-6,-5,-4],"labelExpr":"datum.value == -10 ? 'Pre' : '-' + abs(datum.value)","title":"ACh [log M]"}},"y":{"field":"y","type":"quantitative","scale":{"domain":[-9,122],"nice":false,"zero":false},"axis":{"values":[0,20,40,60,80,100,120],"title":"Maximal Vasodilation (%)"}},
"shape":{"field":"s","type":"nominal","scale":{"domain":["CNT","CNT+L-NAME","TEMPOL","TEMPOL+L-NAME","APO","APO+L-NAME"],"range":["circle","circle","triangle-down","triangle-up","square","square"]},"legend":null},
"fill":{"field":"s","type":"nominal","scale":{"domain":["CNT","CNT+L-NAME","TEMPOL","TEMPOL+L-NAME","APO","APO+L-NAME"],"range":["black","white","black","white","black","white"]},"legend":null}}}
],"resolve":{"scale":{"shape":"independent","fill":"independent","stroke":"independent"}}}],"resolve":{"scale":{"shape":"independent","fill":"independent","stroke":"independent"},"legend":{"shape":"independent","fill":"independent","stroke":"independent"}}}
],"spacing":13,"resolve":{"scale":{"shape":"independent","fill":"independent","stroke":"independent"},"legend":{"shape":"independent","fill":"independent","stroke":"independent"}}}
],
"spacing":10,
"resolve":{"scale":{"shape":"independent","fill":"independent","stroke":"independent"},"legend":{"shape":"independent","fill":"independent","stroke":"independent"}},
"config":{
"font":"Liberation Sans",
"view":{"stroke":null},
"axis":{"grid":false,"domainColor":"black","tickColor":"black","labelColor":"black","titleColor":"black","labelFont":"Liberation Sans","titleFont":"Liberation Sans","labelFontSize":7.5,"titleFontSize":8.5,"titleFontWeight":"normal","tickSize":3.5,"domainWidth":0.8,"tickWidth":0.8,"labelOverlap":false,"labelFlush":false},
"axisX":{"labelPadding":4,"titlePadding":4},
"axisY":{"labelPadding":3,"titlePadding":8},
"legend":{"labelFont":"Liberation Sans","labelColor":"black"},
"title":{"font":"Liberation Sans","fontSize":7,"fontWeight":"normal","color":"black","anchor":"middle","offset":0},
"text":{"font":"Liberation Sans","color":"black"}
}
}
